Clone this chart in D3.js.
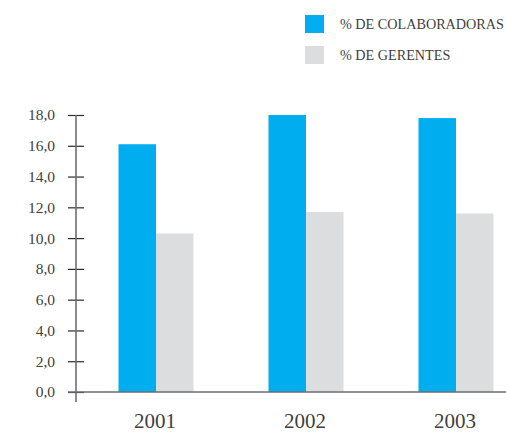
<!DOCTYPE html>
<html>
<head>
<meta charset="utf-8">
<script src="https://cdn.jsdelivr.net/npm/d3@7"></script>
<style>
  html, body { margin: 0; padding: 0; background: #fff; }
  svg { display: block; }
  text { font-family: "Liberation Serif", "DejaVu Serif", serif; fill: #3f3f41; }
</style>
</head>
<body>
<svg id="chart" width="506" height="432"></svg>
<script>
// Years on the x axis
const years = ["2001", "2002", "2003"];
// Series names and values (percent)
const seriesNames = ["% DE COLABORADORAS", "% DE GERENTES"];
const colaboradoras = [16.1, 18.0, 17.8];
const gerentes = [10.3, 11.7, 11.6];
// Y axis ticks
const yTicks = [0, 2, 4, 6, 8, 10, 12, 14, 16, 18];
const colors = ["#00adee", "#dcdddf"];

const svg = d3.select("#chart");
const values = [colaboradoras, gerentes];

const y = d3.scaleLinear().domain([0, 18]).range([392, 115]);
const x = d3.scaleBand().domain(years).range([81, 531]).paddingInner(0.5).paddingOuter(0.25);
const xs = d3.scaleBand().domain([0, 1]).range([0, x.bandwidth()]);

// Bars
const groups = svg.append("g").selectAll("g")
  .data(years)
  .join("g")
  .attr("transform", d => `translate(${x(d)},0)`);

groups.selectAll("rect")
  .data((d, i) => values.map((s, k) => ({ k, v: s[i] })))
  .join("rect")
  .attr("x", d => xs(d.k))
  .attr("width", xs.bandwidth())
  .attr("y", d => y(d.v))
  .attr("height", d => y(0) - y(d.v))
  .attr("fill", d => colors[d.k]);

// Y axis
const fmt = d => d3.format(".1f")(d).replace(".", ",");
const yAxis = svg.append("g")
  .attr("transform", "translate(76,0)")
  .call(d3.axisLeft(y).tickValues(yTicks).tickFormat(fmt).tickSize(8).tickPadding(13));
yAxis.select(".domain").remove();
yAxis.selectAll(".tick line").attr("x2", 8).attr("x1", -8).attr("stroke", "#2b2b2d").attr("stroke-width", 1.2);
yAxis.selectAll(".tick text")
  .style("font-family", "'Liberation Serif', serif")
  .style("font-size", "15.5px")
  .attr("fill", "#3f3f41");
yAxis.append("line")
  .attr("x1", 0).attr("x2", 0)
  .attr("y1", y(18)).attr("y2", 402)
  .attr("stroke", "#6d6e71").attr("stroke-width", 1.6);

// X baseline
svg.append("line")
  .attr("x1", 68).attr("x2", 506)
  .attr("y1", y(0)).attr("y2", y(0))
  .attr("stroke", "#6d6e71").attr("stroke-width", 1.6);

// X labels
svg.append("g").selectAll("text")
  .data(years)
  .join("text")
  .attr("x", d => x(d) + x.bandwidth() / 2 - 1)
  .attr("y", 428)
  .attr("text-anchor", "middle")
  .style("font-size", "21px")
  .attr("fill", "#2b2b2d")
  .text(d => d);

// Legend
const legend = svg.append("g").selectAll("g")
  .data(seriesNames)
  .join("g")
  .attr("transform", (d, i) => `translate(305,${15 + i * 31})`);
legend.append("rect")
  .attr("width", 19).attr("height", 18)
  .attr("fill", (d, i) => colors[i]);
legend.append("text")
  .attr("x", 35).attr("y", 13.5)
  .style("font-size", "14.2px")
  .attr("fill", "#4a4a4c")
  .text(d => d);
</script>
</body>
</html>
